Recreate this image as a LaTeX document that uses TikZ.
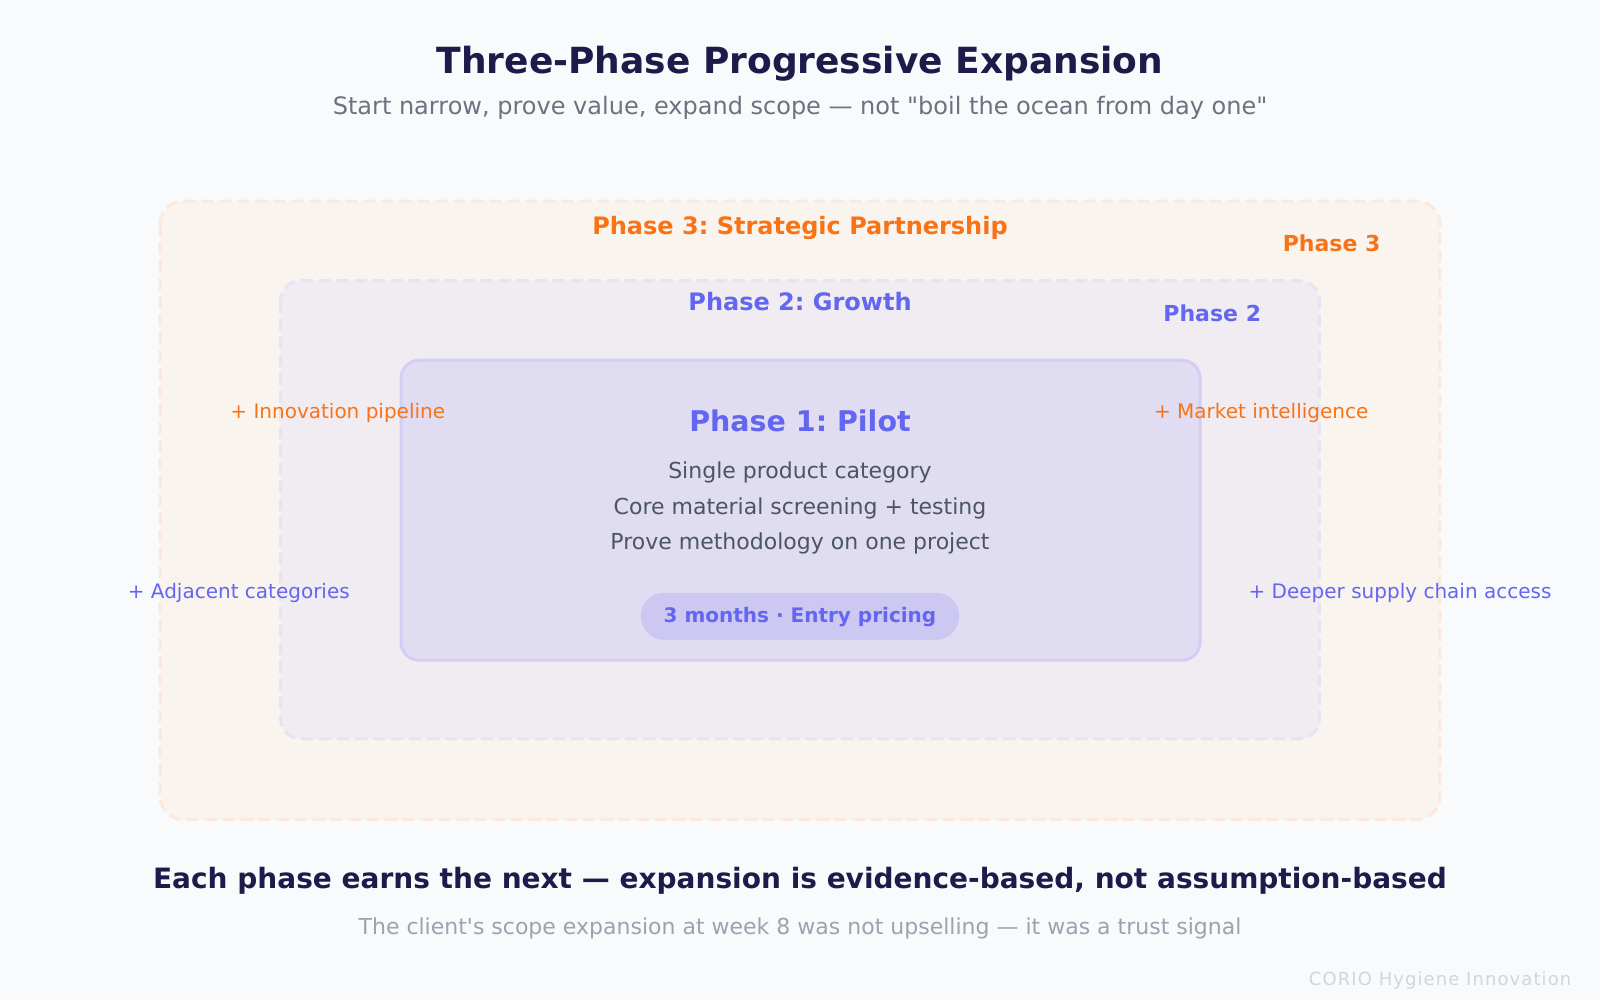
\documentclass[tikz,border=0pt]{standalone}
\usepackage{fontspec}
\setmainfont{DejaVu Sans}[Ligatures=TeXOff]
\newfontfamily\spacedfont[LetterSpace=6]{DejaVu Sans}
\usepackage{xcolor}
\usetikzlibrary{calc}
\frenchspacing
\definecolor{bgcol}{HTML}{F8FAFC}
\definecolor{navy}{HTML}{1E1B4B}
\definecolor{subgray}{HTML}{6B7280}
\definecolor{bodygray}{HTML}{4B5563}
\definecolor{lightgray}{HTML}{9CA3AF}
\definecolor{faintgray}{HTML}{D4D4DC}
\definecolor{orng}{HTML}{F97316}
\definecolor{indig}{HTML}{6366F1}
\definecolor{ringthree}{HTML}{FAF4EF}
\definecolor{ringthreeline}{HTML}{FCE9DB}
\definecolor{ringtwo}{HTML}{F1ECF2}
\definecolor{ringtwoline}{HTML}{E8E3F3}
\definecolor{ringone}{HTML}{E0DCF1}
\definecolor{ringoneline}{HTML}{D2CEF4}
\definecolor{pillcol}{HTML}{CCC8F2}
\newcommand{\fs}[1]{\fontsize{#1}{#1}\selectfont}
\tikzset{
 ring/.style={line width=3pt, dash pattern=on 12pt off 6pt},
 lbl/.style={inner sep=0pt, anchor=center},
 addthree/.style={lbl, text=orng, font=\fs{20}},
 addtwo/.style={lbl, text=indig, font=\fs{20}},
 bodyline/.style={lbl, text=bodygray, font=\fs{22}}
}

\begin{document}
\begin{tikzpicture}[x=1.0204pt, y=-1.0204pt]
\fill[bgcol] (0,0) rectangle (1568,980);
\useasboundingbox (0,0) rectangle (1568,980);
\node[lbl, text=navy, font=\bfseries\fs{36}] (title) at (784,62) {Three-Phase Progressive Expansion};
\node[lbl, text=subgray, font=\fs{24}] (subtitle) at (784,106) {Start narrow, prove value, expand scope — not "boil the ocean from day one"};
\filldraw[ring, fill=ringthree, draw=ringthreeline, rounded corners=23pt] (157,197) rectangle (1411,803);
\node[lbl, text=orng, font=\bfseries\fs{24}] (pthree) at (784,223) {Phase 3: Strategic Partnership};
\node[lbl, text=orng, font=\bfseries\fs{22}] (pthreetag) at (1305,238) {Phase 3};
\filldraw[ring, fill=ringtwo, draw=ringtwoline, rounded corners=20pt] (275,275) rectangle (1293,724);
\node[lbl, text=indig, font=\bfseries\fs{24}] (ptwo) at (784,296) {Phase 2: Growth};
\node[lbl, text=indig, font=\bfseries\fs{22}] (ptwotag) at (1188,307) {Phase 2};
\filldraw[fill=ringone, draw=ringoneline, line width=3pt, rounded corners=18pt] (393,353) rectangle (1176,647);
\node[lbl, text=indig, font=\bfseries\fs{28.5}] (pone) at (784,412) {Phase 1: Pilot};
\foreach \t [count=\i] in {Single product category, Core material screening + testing, Prove methodology on one project} {
 \node[bodyline] (line\i) at (784,{428+35*\i}) {\t};
}
\fill[pillcol, rounded corners=23pt] (628,581) rectangle (940,627);
\node[lbl, text=indig, font=\bfseries\fs{20}] (pill) at (784,605) {3 months · Entry pricing};
\node[addthree] (innov) at (331,405) {+ Innovation pipeline};
\node[addthree] (market) at (1236,405) {+ Market intelligence};
\node[addtwo] (adjacent) at (234,581) {+ Adjacent categories};
\node[addtwo] (supply) at (1372,581) {+ Deeper supply chain access};
\node[lbl, text=navy, font=\bfseries\fs{28}] (takeaway) at (784,863) {Each phase earns the next — expansion is evidence-based, not assumption-based};
\node[lbl, text=lightgray, font=\fs{22}] (trust) at (784,910) {The client's scope expansion at week 8 was not upselling — it was a trust signal};
\node[lbl, anchor=east, text=faintgray, font=\spacedfont\fs{18}] (brand) at (1540,961) {CORIO Hygiene Innovation};
\end{tikzpicture}
\end{document}
